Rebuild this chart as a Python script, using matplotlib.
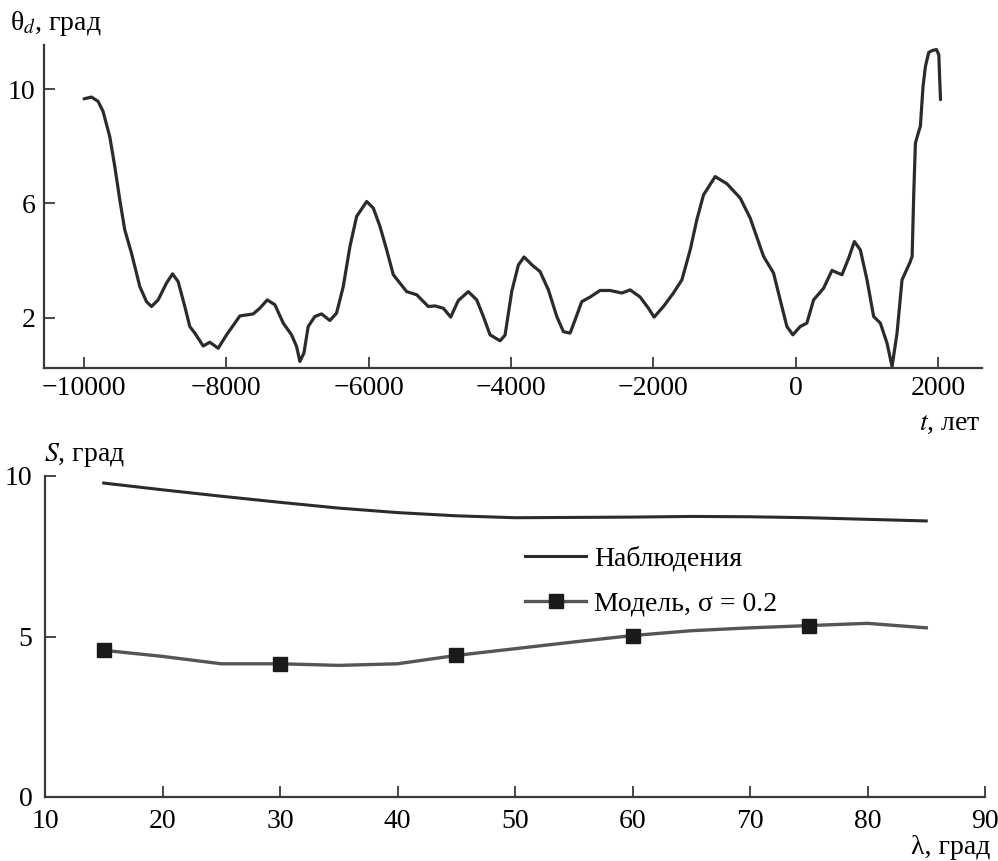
import matplotlib

matplotlib.use("Agg")
import matplotlib.pyplot as plt

plt.rcParams["font.family"] = ["Liberation Serif", "DejaVu Serif"]
plt.rcParams["mathtext.fontset"] = "stix"
plt.rcParams["font.size"] = 20

# top panel: theta_d vs t (years)
t_years = [-10000, -9896, -9803, -9733, -9639, -9568, -9498, -9428, -9334, -9217,
           -9123, -9052, -8959, -8841, -8757, -8678, -8584, -8514, -8443, -8326,
           -8232, -8115, -7997, -7810, -7623, -7529, -7426, -7318, -7201, -7084,
           -7013, -6967, -6910, -6850, -6756, -6662, -6545, -6451, -6357, -6263,
           -6169, -6028, -5935, -5841, -5747, -5654, -5466, -5325, -5162, -5068,
           -4951, -4847, -4740, -4600, -4481, -4388, -4294, -4153, -4083, -3989,
           -3896, -3816, -3708, -3591, -3474, -3356, -3263, -3169, -3099, -3005,
           -2888, -2748, -2607, -2442, -2325, -2185, -2068, -1988, -1857, -1717,
           -1598, -1481, -1388, -1294, -1130, -965, -778, -638, -450, -310,
           -216, -122, -38, 65, 159, 253, 394, 511, 652, 746,
           826, 910, 1004, 1097, 1191, 1285, 1356, 1426, 1496, 1604,
           1638, 1661, 1684, 1731, 1754, 1791, 1825, 1871, 1924, 1980,
           2013, 2023, 2037]
theta_d = [9.66, 9.72, 9.57, 9.22, 8.34, 7.29, 6.13, 5.08, 4.27, 3.10,
           2.57, 2.40, 2.63, 3.22, 3.54, 3.27, 2.40, 1.70, 1.47, 1.02,
           1.15, 0.94, 1.41, 2.07, 2.14, 2.34, 2.63, 2.46, 1.82, 1.41,
           1.00, 0.48, 0.77, 1.70, 2.05, 2.14, 1.91, 2.17, 3.10, 4.50,
           5.55, 6.07, 5.84, 5.20, 4.38, 3.51, 2.92, 2.81, 2.40, 2.42,
           2.34, 2.03, 2.61, 2.92, 2.63, 2.05, 1.41, 1.20, 1.40, 2.93,
           3.85, 4.13, 3.86, 3.62, 2.98, 2.05, 1.52, 1.47, 1.93, 2.57,
           2.73, 2.96, 2.96, 2.87, 2.98, 2.73, 2.34, 2.03, 2.40, 2.87,
           3.33, 4.38, 5.43, 6.30, 6.94, 6.69, 6.19, 5.49, 4.15, 3.57,
           2.63, 1.70, 1.41, 1.70, 1.82, 2.63, 3.04, 3.66, 3.51, 4.09,
           4.67, 4.38, 3.33, 2.05, 1.82, 1.12, 0.30, 1.47, 3.33, 3.92,
           4.15, 6.36, 8.11, 8.52, 8.70, 10.09, 10.79, 11.28, 11.35, 11.38,
           11.20, 10.50, 9.63]

# bottom panel: S vs lambda
lam = [15, 20, 25, 30, 35, 40, 45, 50, 55, 60, 65, 70, 75, 80, 85]
s_obs = [9.78, 9.57, 9.37, 9.18, 9.00, 8.86, 8.76, 8.70, 8.71, 8.72, 8.74, 8.73, 8.70, 8.65, 8.60]
s_model = [4.57, 4.38, 4.15, 4.15, 4.10, 4.15, 4.41, 4.62, 4.83, 5.03, 5.18, 5.27, 5.34, 5.41, 5.27]

W, H = 998, 861
fig = plt.figure(figsize=(W / 100, H / 100), dpi=100)


def px_axes(x0, y0, x1, y1):
    return fig.add_axes([x0 / W, 1 - y1 / H, (x1 - x0) / W, (y1 - y0) / H])


def style(ax):
    for side in ("top", "right"):
        ax.spines[side].set_visible(False)
    for side in ("left", "bottom"):
        ax.spines[side].set_linewidth(1.6)
        ax.spines[side].set_color("#3a3a3a")
    ax.tick_params(direction="in", length=8, width=1.3, color="#3a3a3a", labelsize=20, pad=6)


ax1 = px_axes(44, 45, 982, 368)
ax1.plot(t_years, theta_d, color="#2b2b2b", lw=2.3, solid_joinstyle="round", solid_capstyle="round")
ax1.set_xlim(-10563, 2620)
ax1.set_ylim(0.25, 11.54)
ax1.set_xticks([-10000, -8000, -6000, -4000, -2000, 0, 2000])
ax1.set_yticks([2, 6, 10])
style(ax1)

ax2 = px_axes(45, 476, 985, 797)
ax2.plot(lam, s_obs, color="#2b2b2b", lw=2.2, label="Наблюдения")
ax2.plot(lam, s_model, color="#555555", lw=2.4, marker="s", markersize=10,
         markerfacecolor="#1a1a1a", markeredgecolor="#1a1a1a", markevery=3,
         label="Модель, σ = 0.2")
ax2.set_xlim(10, 90)
ax2.set_ylim(0, 10)
ax2.set_xticks(range(10, 91, 10))
ax2.set_yticks([0, 5, 10])
style(ax2)
ax2.tick_params(axis="x", pad=9)
ax2.tick_params(axis="y", pad=9)
ax2.legend(loc="upper left", bbox_to_anchor=(500 / W, 1 - 521 / H),
           bbox_transform=fig.transFigure, frameon=False, fontsize=20,
           handlelength=2.2, handletextpad=0.3, labelspacing=0.7)

fig.text(10 / W, 1 - 24 / H, "θ$_{d}$, град", fontsize=20, va="center", ha="left")
fig.text(980 / W, 1 - 424 / H, "$t$, лет", fontsize=20, va="center", ha="right")
fig.text(44 / W, 1 - 455 / H, "$S$, град", fontsize=20, va="center", ha="left")
fig.text(990 / W, 1 - 848 / H, "λ, град", fontsize=20, va="center", ha="right")

fig.savefig("out.png", dpi=100)
